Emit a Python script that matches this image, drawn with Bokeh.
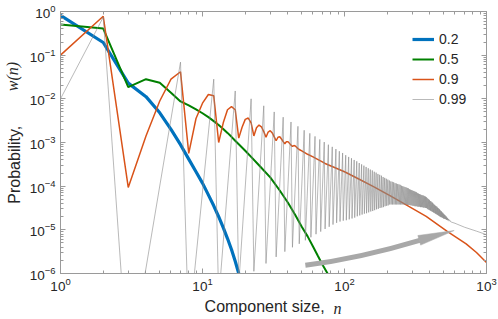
import numpy as np
from bokeh.plotting import figure
from bokeh.models import (Range1d, LogAxis, FixedTicker, Legend, LegendItem,
                          CustomJSTickFormatter)
from bokeh.embed import file_html
from bokeh.resources import INLINE

# ---------------- data (log10 of w(n)) ----------------
n_02 = list(range(1, 20))
e_02 = [-0.09, -0.71, -1.64, -1.95, -2.32, -2.70, -3.05, -3.38, -3.67, -3.93,
        -4.20, -4.45, -4.70, -4.95, -5.20, -5.45, -5.72, -6.00, -6.27]

n_05 = list(range(1, 19)) + [20, 22, 25, 30, 35, 40, 45, 50, 55, 60, 65, 70, 76, 80]
e_05 = [-0.295, -0.39, -1.73, -1.55, -1.63, -1.86, -2.06, -2.15, -2.24, -2.33,
        -2.42, -2.51, -2.60, -2.69, -2.78, -2.87, -2.96, -3.04,
        -3.19, -3.33, -3.52, -3.80, -4.10, -4.38, -4.66, -4.93, -5.15, -5.38,
        -5.60, -5.80, -6.00, -6.15]

n_09 = list(range(1, 49)) + [50, 55, 60, 73, 100, 125, 160, 212, 272, 376, 532, 719, 850, 1000]
e_09 = [-1.00, -0.11, -4.03, -2.85, -2.05, -1.55, -1.38, -3.25, -2.45, -2.10,
        -1.90, -1.93, -3.00, -2.55, -2.25, -2.18, -2.25, -2.90, -2.65, -2.47,
        -2.44, -2.55, -2.85, -2.66, -2.60, -2.64, -2.75, -2.88, -2.76, -2.73,
        -2.78, -2.87, -2.96, -2.88, -2.87, -2.92, -2.98, -3.03, -2.98, -2.98,
        -3.02, -3.06, -3.09, -3.07, -3.08, -3.11, -3.14, -3.16,
        -3.19, -3.27, -3.33, -3.48, -3.67, -3.83, -4.01, -4.23, -4.43, -4.69,
        -5.04, -5.32, -5.52, -5.75]

# p = 0.99: value at n = 1, then peaks (n = 2, 7, 12, ...) and troughs (n = 3, 8, 13, ...), then tail
n_099_head = [1]
e_099_head = [-2.00]
n_099_peak = list(range(2, 563, 5))
e_099_peak = [-0.13, -1.16, -1.55, -1.82, -2.00, -2.16, -2.30, -2.42, -2.53, -2.63,
              -2.72, -2.79, -2.86, -2.93, -2.99, -3.05, -3.10, -3.15, -3.20, -3.24,
              -3.29, -3.33, -3.36, -3.40, -3.43, -3.47, -3.50, -3.53, -3.56, -3.59,
              -3.62, -3.64, -3.67, -3.69, -3.72, -3.74, -3.76, -3.79, -3.81, -3.83,
              -3.85, -3.87, -3.89, -3.90, -3.91, -3.93, -3.94, -3.95, -3.96, -3.97,
              -3.99, -4.00, -4.01, -4.02, -4.03, -4.04, -4.05, -4.07, -4.08, -4.09,
              -4.10, -4.11, -4.12, -4.13, -4.14, -4.16, -4.17, -4.18, -4.19, -4.20,
              -4.21, -4.21, -4.22, -4.23, -4.24, -4.25, -4.27, -4.29, -4.30, -4.32,
              -4.34, -4.35, -4.37, -4.38, -4.40, -4.42, -4.43, -4.45, -4.46, -4.47,
              -4.49, -4.50, -4.52, -4.53, -4.55, -4.57, -4.58, -4.60, -4.61, -4.63,
              -4.64, -4.66, -4.67, -4.69, -4.70, -4.72, -4.73, -4.75, -4.76, -4.78,
              -4.79, -4.80, -4.82]
n_099_trough = list(range(3, 564, 5))
e_099_trough = [-8.30, -7.30, -6.60, -6.25, -5.95, -5.77, -5.62, -5.50, -5.40, -5.32,
                -5.24, -5.17, -5.10, -5.04, -4.98, -4.93, -4.88, -4.84, -4.81, -4.79,
                -4.78, -4.76, -4.74, -4.72, -4.69, -4.67, -4.65, -4.63, -4.62, -4.60,
                -4.58, -4.57, -4.55, -4.53, -4.52, -4.50, -4.49, -4.48, -4.46, -4.45,
                -4.44, -4.42, -4.42, -4.42, -4.42, -4.42, -4.42, -4.42, -4.42, -4.42,
                -4.42, -4.42, -4.42, -4.42, -4.42, -4.43, -4.43, -4.43, -4.44, -4.44,
                -4.45, -4.45, -4.46, -4.46, -4.46, -4.47, -4.47, -4.47, -4.48, -4.48,
                -4.48, -4.49, -4.49, -4.49, -4.50, -4.50, -4.52, -4.53, -4.54, -4.55,
                -4.56, -4.57, -4.58, -4.59, -4.60, -4.61, -4.62, -4.63, -4.64, -4.65,
                -4.66, -4.67, -4.68, -4.69, -4.70, -4.71, -4.71, -4.72, -4.73, -4.74,
                -4.74, -4.75, -4.75, -4.76, -4.77, -4.77, -4.78, -4.78, -4.79, -4.80,
                -4.80, -4.81, -4.82]
n_099_tail = [600, 700, 850, 1000]
e_099_tail = [-4.85, -4.94, -5.03, -5.11]

series_labels = ["0.2", "0.5", "0.9", "0.99"]
x_ticks = [1, 10, 100, 1000]
y_ticks = [1e-6, 1e-5, 1e-4, 1e-3, 1e-2, 1e-1, 1]
x_title = ("Component size,", "n")
y_title = ("Probability,", "w(n)")

# arrow annotation (start, control, end of shaft; head triangle)
arrow_shaft_n = [53, 129, 338]
arrow_shaft_e = [-5.81, -5.65, -5.24]
arrow_head_n = [343.6, 592, 328.4]
arrow_head_e = [-5.35, -5.016, -5.13]

# ---------------- build ----------------
assert len(e_099_peak) == len(n_099_peak) and len(e_099_trough) == len(n_099_trough)
g_n = list(n_099_head)
g_e = list(e_099_head)
for pn, pe, tn, te in zip(n_099_peak, e_099_peak, n_099_trough, e_099_trough):
    g_n += [pn, tn]
    g_e += [pe, te]
g_n += n_099_tail
g_e += e_099_tail

def w(e):
    return [10.0 ** v for v in e]

FONT = "Liberation Sans"
MATH = "Liberation Serif"
AX = "#9a9a9a"
TXT = "#262626"
NB = "\u00a0"

p = figure(width=498, height=319, x_axis_type="log", y_axis_type="log",
           x_range=Range1d(1, 1000), y_range=Range1d(1e-6, 1),
           output_backend="svg", toolbar_location=None,
           min_border_left=56, min_border_right=12, min_border_top=11, min_border_bottom=44)
p.grid.visible = False
p.outline_line_color = AX
p.background_fill_color = "white"
p.border_fill_color = "white"

minor_x = [m * 10 ** k for k in range(0, 3) for m in range(2, 10)]
minor_y = [m * 10.0 ** k for k in range(-6, 0) for m in range(2, 10)]

def style_axis(ax, ticks, minor, labels=True):
    ax.ticker = FixedTicker(ticks=ticks, minor_ticks=minor)
    ax.axis_line_color = AX
    ax.major_tick_line_color = AX
    ax.minor_tick_line_color = AX
    ax.major_tick_in = 5
    ax.major_tick_out = 0
    ax.minor_tick_in = 3
    ax.minor_tick_out = 0
    ax.major_label_text_font = FONT
    ax.major_label_text_font_size = "13.5px"
    ax.major_label_text_color = TXT
    if not labels:
        ax.formatter = CustomJSTickFormatter(code="return ''")
        ax.major_label_standoff = 0

def title_axis(ax, text, standoff, font, style):
    # axis that only carries a title (no line, no ticks)
    ax.ticker = FixedTicker(ticks=[], minor_ticks=[])
    ax.axis_line_color = None
    ax.major_tick_line_color = None
    ax.minor_tick_line_color = None
    ax.major_tick_in = 0
    ax.major_tick_out = 0
    ax.minor_tick_in = 0
    ax.minor_tick_out = 0
    ax.major_label_standoff = 0
    ax.axis_label = text
    ax.axis_label_standoff = standoff
    ax.axis_label_text_font = font
    ax.axis_label_text_font_style = style
    ax.axis_label_text_font_size = "16px"
    ax.axis_label_text_color = TXT

xa = p.xaxis[0]
ya = p.yaxis[0]
style_axis(xa, x_ticks, minor_x)
style_axis(ya, y_ticks, minor_y)
xa.major_label_standoff = 4
ya.major_label_standoff = 5
for ax, txt, pad in ((xa, x_title[0], 4), (ya, y_title[0], 10)):
    ax.axis_label = txt + NB * pad
    ax.axis_label_standoff = 4
    ax.axis_label_text_font = FONT
    ax.axis_label_text_font_style = "normal"
    ax.axis_label_text_font_size = "16px"
    ax.axis_label_text_color = TXT

top = LogAxis()
right = LogAxis()
style_axis(top, x_ticks, minor_x, labels=False)
style_axis(right, y_ticks, minor_y, labels=False)
p.add_layout(top, "above")
p.add_layout(right, "right")

# italic math parts of the axis titles, on the same lines as the upright parts
xb = LogAxis()
title_axis(xb, NB * 32 + x_title[1], -18, MATH, "italic")
p.add_layout(xb, "below")
yb = LogAxis()
title_axis(yb, NB * 33 + y_title[1], -18, MATH, "italic")
p.add_layout(yb, "left")

r1 = p.line(n_02, w(e_02), line_color="#0072BD", line_width=3.2)
r2 = p.line(n_05, w(e_05), line_color="#008000", line_width=2.0)
r3 = p.line(n_09, w(e_09), line_color="#D95319", line_width=1.5)
r4 = p.line(g_n, w(g_e), line_color="#8a8a8a", line_width=0.6)

# arrow
p.quadratic(x0=[arrow_shaft_n[0]], y0=[10 ** arrow_shaft_e[0]],
            x1=[arrow_shaft_n[2]], y1=[10 ** arrow_shaft_e[2]],
            cx=[arrow_shaft_n[1]], cy=[10 ** arrow_shaft_e[1]],
            line_color="#a8a8a8", line_width=5, line_cap="butt")
p.patch(arrow_head_n, w(arrow_head_e), fill_color="#a8a8a8", line_color="#a8a8a8", line_width=0.5)

legend = Legend(items=[LegendItem(label=l, renderers=[r]) for l, r in zip(series_labels, [r1, r2, r3, r4])],
                location=(352, 164), orientation="vertical",
                border_line_color=None, background_fill_alpha=0,
                padding=0, margin=0, spacing=0,
                label_height=20, glyph_height=20, glyph_width=22, label_standoff=5,
                label_text_font=FONT, label_text_font_size="14px", label_text_color=TXT)
p.add_layout(legend, "center")

open("out.html", "w").write(file_html(p, INLINE))
